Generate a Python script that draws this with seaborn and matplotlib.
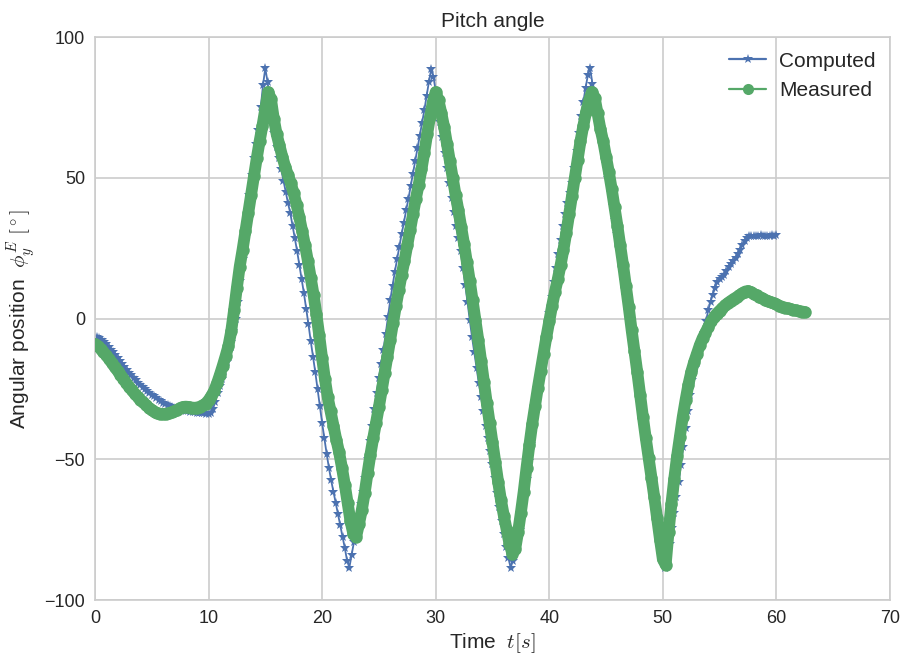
import numpy as np
import pandas as pd
import matplotlib
matplotlib.use("Agg")
import matplotlib.pyplot as plt
from matplotlib.lines import Line2D
import seaborn as sns

# ---------------- data ----------------
title = "Pitch angle"
x_label = "Time  $t[s]$"
y_label = r"Angular position  $\phi_y^E\ [^\circ]$"
series_names = ["Computed", "Measured"]
x_ticks = [0, 10, 20, 30, 40, 50, 60, 70]
y_ticks = [-100, -50, 0, 50, 100]

computed_dt = 0.2   # seconds between computed samples (t = 0 ... 60 s)
computed = [
    -6.8, -6.7, -7.0, -7.5, -8.3, -9.2, -10.1, -11.0, -12.0, -13.0,          # 0-2
    -14.0, -15.0, -16.0, -17.1, -18.2, -19.3, -20.2, -21.1, -22.0, -22.8,    # 2-4
    -23.6, -24.3, -25.0, -25.7, -26.4, -27.0, -27.6, -28.2, -28.8, -29.4,    # 4-6
    -29.9, -30.4, -30.8, -31.2, -31.5, -31.8, -32.0, -32.2, -32.4, -32.6,    # 6-8
    -32.8, -32.9, -33.1, -33.2, -33.3, -33.4, -33.5, -33.6, -33.7, -33.8,    # 8-10
    -33.9, -33.5, -32.0, -29.5, -26.5, -24.0, -21.5, -18.5, -15.5, -12.0,    # 10-12
    -8.5, -4.5, 0.0, 6.0, 13.5, 21.0, 28.0, 36.0, 44.0, 51.0,                # 12-14
    57.0, 62.0, 67.0, 75.0, 83.0, 89.0, 84.0, 78.0, 71.0, 66.0,              # 14-16
    61.0, 57.0, 53.0, 49.0, 45.0, 41.0, 37.5, 33.0, 28.5, 24.0,              # 16-18
    19.0, 14.0, 9.0, 3.5, -2.0, -8.0, -13.5, -19.0, -25.0, -31.0,            # 18-20
    -37.0, -42.5, -48.0, -53.0, -57.5, -61.5, -65.5, -69.5, -73.5, -77.5,    # 20-22
    -81.5, -86.0, -88.5, -84.0, -79.5, -76.0, -71.0, -66.0, -61.5, -56.5,    # 22-24
    -50.0, -43.5, -38.0, -32.0, -26.5, -21.0, -16.0, -11.0, -5.5, 0.5,       # 24-26
    6.5, 11.5, 16.5, 21.0, 25.5, 30.0, 34.0, 38.5, 42.5, 47.0,               # 26-28
    51.5, 56.0, 60.5, 65.0, 69.5, 74.0, 79.0, 84.0, 88.5, 86.0,              # 28-30
    81.0, 75.5, 70.0, 64.5, 59.0, 53.5, 48.0, 43.0, 38.0, 33.0,              # 30-32
    28.5, 24.0, 18.0, 12.0, 6.0, -0.5, -6.5, -12.0, -17.5, -23.0,            # 32-34
    -28.0, -33.0, -38.0, -42.5, -47.0, -51.5, -56.5, -62.0, -67.0, -72.0,    # 34-36
    -76.5, -81.0, -85.0, -88.5, -86.0, -82.0, -78.5, -75.0, -69.5, -63.5,    # 36-38
    -57.0, -50.5, -44.5, -38.5, -32.5, -26.5, -21.0, -15.0, -9.5, -4.0,      # 38-40
    2.0, 7.5, 13.0, 18.0, 23.0, 28.0, 33.0, 37.0, 41.0, 44.5,                # 40-42
    48.0, 53.5, 59.5, 66.0, 72.0, 77.0, 82.0, 86.5, 89.0, 83.5,              # 42-44
    79.0, 74.5, 70.0, 65.0, 60.0, 55.0, 50.0, 45.0, 40.0, 35.0,              # 44-46
    30.0, 24.5, 19.0, 13.5, 8.0, 2.0, -4.0, -10.0, -16.0, -22.0,             # 46-48
    -28.0, -34.0, -40.0, -46.0, -52.0, -58.0, -64.0, -69.5, -75.0, -80.5,    # 48-50
    -85.5, -88.5, -86.0, -80.0, -74.5, -69.0, -63.5, -58.0, -52.0, -45.5,    # 50-52
    -39.0, -33.0, -27.0, -22.0, -17.5, -14.0, -11.5, -9.0, -5.0, -1.0,       # 52-54
    3.0, 6.0, 8.5, 11.0, 13.0, 14.2, 14.8, 15.5, 17.0, 18.5,                 # 54-56
    19.5, 20.5, 21.5, 23.0, 24.5, 26.0, 27.5, 28.5, 29.3, 29.5,              # 56-58
    29.5, 29.4, 29.5, 29.6, 29.5, 29.4, 29.5, 29.5, 29.6, 29.5,              # 58-60
    29.6,                                                                    # 60
]

measured_dt = 0.25  # seconds between measured samples (t = 0 ... 62.5 s)
measured = [
    -9.0, -9.8, -10.8, -11.9, -13.1, -14.4, -15.8, -17.3,     # 0-2
    -18.6, -19.9, -21.3, -22.8, -24.2, -25.5, -26.7, -27.8,   # 2-4
    -28.8, -29.8, -30.8, -31.7, -32.5, -33.2, -33.6, -33.8,   # 4-6
    -33.9, -33.8, -33.6, -33.3, -32.9, -32.4, -31.8, -31.4,   # 6-8
    -31.3, -31.4, -31.6, -31.7, -31.6, -31.3, -30.8, -30.2,   # 8-10
    -29.0, -27.5, -25.6, -23.0, -20.0, -16.8, -13.4, -9.8,    # 10-12
    -4.5, 3.0, 11.0, 18.5, 24.5, 31.0, 37.5, 44.0,            # 12-14
    50.5, 57.0, 63.0, 68.5, 74.5, 80.5, 78.0, 71.0,           # 14-16
    65.5, 61.5, 57.5, 54.0, 51.0, 48.0, 44.5, 40.5,           # 16-18
    36.0, 31.0, 26.0, 20.5, 14.5, 8.5, 1.5, -6.0,             # 18-20
    -14.0, -21.5, -28.0, -33.0, -38.0, -43.0, -47.5, -53.0,   # 20-22
    -59.0, -65.5, -72.0, -76.5, -77.5, -73.0, -68.0, -62.0,   # 22-24
    -55.0, -48.5, -42.5, -37.0, -31.5, -25.5, -19.5, -13.5,   # 24-26
    -7.5, -1.5, 4.5, 10.0, 15.5, 20.5, 26.0, 31.5,            # 26-28
    37.0, 42.5, 47.5, 53.0, 59.0, 65.5, 71.5, 77.0,           # 28-30
    80.5, 77.5, 73.0, 68.0, 62.0, 56.0, 50.0, 44.0,           # 30-32
    38.5, 32.5, 26.5, 20.0, 13.5, 6.5, -0.5, -7.5,            # 32-34
    -15.0, -22.5, -30.0, -37.0, -44.0, -51.0, -58.0, -64.5,   # 34-36
    -70.0, -75.0, -80.0, -83.5, -82.0, -76.0, -69.0, -61.5,   # 36-38
    -53.0, -45.0, -37.5, -31.0, -24.5, -18.5, -12.5, -6.5,    # 38-40
    -1.0, 4.5, 9.5, 14.0, 19.0, 24.5, 30.5, 37.0,             # 40-42
    43.5, 50.0, 56.5, 63.0, 68.5, 73.5, 77.5, 80.5,           # 42-44
    78.5, 73.0, 67.5, 63.0, 57.5, 52.0, 46.0, 39.5,           # 44-46
    33.0, 26.0, 19.0, 11.5, 4.0, -4.0, -11.5, -19.0,          # 46-48
    -27.0, -35.0, -42.5, -49.5, -56.5, -63.5, -71.0, -78.5,   # 48-50
    -85.5, -87.5, -76.0, -66.0, -57.0, -49.0, -42.0, -35.0,   # 50-52
    -29.0, -23.5, -19.0, -15.5, -12.5, -9.5, -7.0, -5.0,      # 52-54
    -3.0, -1.0, 0.5, 1.8, 2.8, 3.8, 4.8, 5.6,                 # 54-56
    6.3, 7.0, 7.6, 8.3, 9.0, 9.6, 9.8, 9.4,                   # 56-58
    8.8, 8.2, 7.7, 7.2, 6.7, 6.2, 5.8, 5.4,                   # 58-60
    5.0, 4.6, 4.2, 3.9, 3.6, 3.3, 3.1, 2.9,                   # 60-62
    2.7, 2.5, 2.3,                                            # 62-62.5
]

colors = ["#4C72B0", "#55A868"]

# ---------------- frames ----------------
df_c = pd.DataFrame({"t": np.arange(len(computed)) * computed_dt, "v": computed})
df_m = pd.DataFrame({"t": np.arange(len(measured)) * measured_dt, "v": measured})

# ---------------- style ----------------
sns.set_theme(style="whitegrid", context="notebook")
plt.rcParams["font.family"] = ["Liberation Sans", "DejaVu Sans"]
plt.rcParams["mathtext.fontset"] = "cm"
plt.rcParams["axes.edgecolor"] = "0.8"
plt.rcParams["grid.color"] = "0.8"

fig, ax = plt.subplots(figsize=(9.04, 6.63), dpi=100)
fig.subplots_adjust(left=0.105, right=0.9845, top=0.944, bottom=0.095)

sns.lineplot(data=df_c, x="t", y="v", ax=ax, color=colors[0], estimator=None,
             sort=False, linewidth=1.3, marker="*", markersize=7,
             markeredgewidth=0, legend=False, zorder=2)
sns.lineplot(data=df_m, x="t", y="v", ax=ax, color=colors[1], estimator=None,
             sort=False, linewidth=8.5, marker="o", markersize=9,
             markeredgewidth=0, legend=False, zorder=3,
             solid_capstyle="round", solid_joinstyle="round")

ax.set_xlim(0, 70)
ax.set_ylim(-100, 100)
ax.set_xticks(x_ticks)
ax.set_yticks(y_ticks)
ax.tick_params(axis="both", labelsize=13, colors="0.15", length=0, pad=7)
ax.set_title(title, fontsize=15, color="0.15", pad=7)
ax.set_xlabel(x_label, fontsize=15, color="0.15", labelpad=3)
ax.set_ylabel(y_label, fontsize=15, color="0.15", labelpad=5)
for s in ax.spines.values():
    s.set_color("0.8")
    s.set_linewidth(1.2)
ax.grid(True, color="0.8", linewidth=1.2)

handles = [
    Line2D([], [], color=colors[0], marker="*", markersize=7,
           markeredgewidth=0, linewidth=1.6),
    Line2D([], [], color=colors[1], marker="o", markersize=8,
           markeredgewidth=0, linewidth=1.6),
]
ax.legend(handles, series_names, loc="upper right", frameon=False,
          fontsize=15, numpoints=1, handlelength=1.8, handletextpad=0.6,
          borderaxespad=0.3, labelspacing=0.5)

fig.savefig("out.png", dpi=100)
